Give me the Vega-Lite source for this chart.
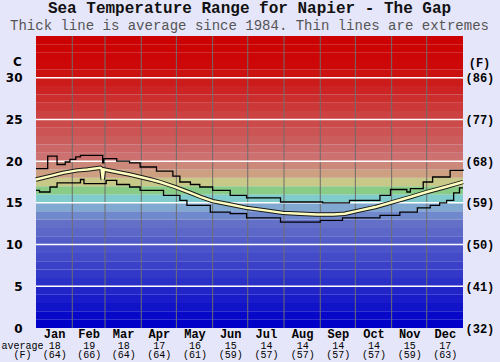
{
  "$schema": "https://vega.github.io/schema/vega-lite/v6.json",
  "width": 427,
  "height": 292,
  "autosize": {"type": "none"},
  "padding": {"left": 36, "top": 36, "right": 37, "bottom": 34},
  "background": "#e6e6fa",
  "title": {
    "text": "Sea Temperature Range for Napier - The Gap",
    "subtitle": "Thick line is average since 1984. Thin lines are extremes",
    "font": "Liberation Mono", "fontSize": 16, "fontWeight": "bold", "color": "#111111",
    "subtitleFont": "Liberation Mono", "subtitleFontSize": 14, "subtitleColor": "#555555",
    "subtitlePadding": 3, "offset": 3, "anchor": "middle"
  },
  "datasets": {
    "bands": [
      {"t":0,"t2":1},{"t":1,"t2":2},{"t":2,"t2":3},{"t":3,"t2":4},{"t":4,"t2":5},{"t":5,"t2":6},{"t":6,"t2":7},
      {"t":7,"t2":8},{"t":8,"t2":9},{"t":9,"t2":10},{"t":10,"t2":11},{"t":11,"t2":12},{"t":12,"t2":13},{"t":13,"t2":14},
      {"t":14,"t2":15},{"t":15,"t2":16},{"t":16,"t2":17},{"t":17,"t2":18},{"t":18,"t2":19},{"t":19,"t2":20},{"t":20,"t2":21},
      {"t":21,"t2":22},{"t":22,"t2":23},{"t":23,"t2":24},{"t":24,"t2":25},{"t":25,"t2":26},{"t":26,"t2":27},{"t":27,"t2":28},
      {"t":28,"t2":29},{"t":29,"t2":30},{"t":30,"t2":31},{"t":31,"t2":32},{"t":32,"t2":33},{"t":33,"t2":34},{"t":34,"t2":35}
    ],
    "months": [{"day":31},{"day":59},{"day":90},{"day":120},{"day":151},{"day":181},{"day":212},{"day":243},{"day":273},{"day":304},{"day":334}],
    "grid": [{"t":5},{"t":10},{"t":15},{"t":20},{"t":25},{"t":30}],
    "max": [
      {"day":0,"temp":19.1},{"day":10,"temp":20.6},{"day":18,"temp":19.6},{"day":25,"temp":19.9},{"day":29,"temp":20.2},
      {"day":34,"temp":20.5},{"day":38,"temp":20.7},{"day":57,"temp":19.8},{"day":58,"temp":20.3},{"day":69,"temp":20.0},
      {"day":80,"temp":19.8},{"day":89,"temp":19.3},{"day":103,"temp":18.8},{"day":117,"temp":18.2},{"day":123,"temp":17.5},
      {"day":132,"temp":17.2},{"day":140,"temp":16.9},{"day":151,"temp":16.5},{"day":166,"temp":15.9},{"day":180,"temp":15.6},
      {"day":209,"temp":15.1},{"day":245,"temp":15.0},{"day":268,"temp":15.3},{"day":294,"temp":15.9},{"day":303,"temp":16.6},
      {"day":317,"temp":16.3},{"day":320,"temp":16.7},{"day":331,"temp":17.5},{"day":339,"temp":18.1},{"day":354,"temp":18.9},
      {"day":365,"temp":19.0}
    ],
    "min": [
      {"day":0,"temp":16.5},{"day":3,"temp":16.3},{"day":12,"temp":16.9},{"day":18,"temp":17.4},{"day":38,"temp":17.8},
      {"day":41,"temp":17.3},{"day":60,"temp":17.7},{"day":69,"temp":17.2},{"day":80,"temp":16.9},{"day":89,"temp":16.5},
      {"day":109,"temp":15.9},{"day":123,"temp":15.3},{"day":129,"temp":14.7},{"day":149,"temp":13.9},{"day":166,"temp":13.7},
      {"day":180,"temp":13.2},{"day":209,"temp":12.7},{"day":243,"temp":12.9},{"day":262,"temp":13.2},{"day":294,"temp":13.5},
      {"day":311,"temp":13.9},{"day":326,"temp":14.4},{"day":337,"temp":14.7},{"day":345,"temp":15.0},{"day":351,"temp":15.3},
      {"day":357,"temp":16.2},{"day":362,"temp":16.8},{"day":365,"temp":16.8}
    ],
    "avg": [
      {"day":0,"temp":17.8},{"day":12,"temp":18.2},{"day":23,"temp":18.6},{"day":35,"temp":18.9},{"day":44,"temp":19.0},
      {"day":55,"temp":19.2},{"day":56,"temp":19.1},{"day":57,"temp":17.8},{"day":58,"temp":19.0},{"day":69,"temp":18.7},
      {"day":80,"temp":18.4},{"day":89,"temp":18.1},{"day":98,"temp":17.8},{"day":106,"temp":17.5},{"day":119,"temp":16.9},
      {"day":132,"temp":16.2},{"day":141,"temp":15.7},{"day":151,"temp":15.2},{"day":166,"temp":14.8},{"day":180,"temp":14.4},
      {"day":196,"temp":14.1},{"day":211,"temp":13.8},{"day":226,"temp":13.7},{"day":240,"temp":13.6},{"day":254,"temp":13.6},
      {"day":264,"temp":13.7},{"day":274,"temp":14.0},{"day":290,"temp":14.5},{"day":305,"temp":15.1},{"day":320,"temp":15.7},
      {"day":334,"temp":16.3},{"day":350,"temp":16.9},{"day":365,"temp":17.5}
    ]
  },
  "layer": [
    {
      "data": {"name": "bands"},
      "mark": {"type": "rect", "strokeWidth": 0},
      "encoding": {
        "y": {"field": "t", "type": "quantitative", "scale": {"domain": [0, 35], "nice": false, "zero": false},
          "axis": {"orient": "left", "values": [0,5,10,15,20,25,30], "title": "C", "titleAngle": 0, "titleX": -19, "titleY": 25,
            "titleAlign": "center", "titleBaseline": "middle", "titleFont": "DejaVu Sans", "titleFontSize": 12, "titleFontWeight": "bold",
            "titleColor": "#000000", "labelFont": "DejaVu Sans", "labelFontSize": 12, "labelFontWeight": "bold", "labelColor": "#000000",
            "labelPadding": 14}},
        "y2": {"field": "t2"},
        "color": {"field": "t", "type": "quantitative", "legend": null,
          "scale": {"type": "linear", "domain": [0,12,13,14,15,16,17,18,19,20,31,35],
            "range": ["#0000c8","#6470c8","#7088cc","#80a8d0","#80cccc","#88cc88","#c8c888","#cca080","#cc8878","#cc7070","#cc0808","#cc0000"],
            "interpolate": "rgb"}}
      }
    },
    {
      "data": {"name": "months"},
      "mark": {"type": "rule", "color": "#6e6e6e", "strokeWidth": 1},
      "encoding": {
        "x": {"field": "day", "type": "quantitative", "scale": {"domain": [0, 365], "nice": false, "zero": false},
          "axis": {"orient": "bottom", "values": [15.5,45,74.5,105,135.5,166,196.5,227.5,258,288.5,319,349.5],
            "labelExpr": "['Jan','Feb','Mar','Apr','May','Jun','Jul','Aug','Sep','Oct','Nov','Dec'][floor(datum.value/30.42)]",
            "labelFont": "Liberation Mono", "labelFontSize": 12, "labelFontWeight": "bold", "labelColor": "#000000",
            "labelPadding": 0, "labelBaseline": "top", "labelOverlap": false, "labelFlush": false, "title": null}}
      }
    },
    {
      "data": {"name": "grid"},
      "mark": {"type": "rule", "color": "#ffffff", "strokeWidth": 1.5},
      "encoding": {
        "y": {"field": "t", "type": "quantitative", "scale": {"domain": [0, 35], "nice": false, "zero": false},
          "axis": {"orient": "right", "values": [0,5,10,15,20,25,30],
            "labelExpr": "'(' + round(datum.value*9/5+32) + ')'",
            "labelFont": "Liberation Mono", "labelFontSize": 12, "labelFontWeight": "bold", "labelColor": "#000000", "labelPadding": 2,
            "title": "(F)", "titleAngle": 0, "titleX": 16, "titleY": 26, "titleAlign": "center", "titleBaseline": "middle",
            "titleFont": "Liberation Mono", "titleFontSize": 12, "titleFontWeight": "bold", "titleColor": "#000000"}}
      }
    },
    {
      "data": {"name": "max"},
      "mark": {"type": "line", "interpolate": "step-after", "color": "#000000", "strokeWidth": 1.3},
      "encoding": {
        "x": {"field": "day", "type": "quantitative", "scale": {"domain": [0, 365], "nice": false, "zero": false}, "axis": null},
        "y": {"field": "temp", "type": "quantitative", "scale": {"domain": [0, 35], "nice": false, "zero": false}, "axis": null}
      }
    },
    {
      "data": {"name": "min"},
      "mark": {"type": "line", "interpolate": "step-after", "color": "#000000", "strokeWidth": 1.3},
      "encoding": {
        "x": {"field": "day", "type": "quantitative", "scale": {"domain": [0, 365], "nice": false, "zero": false}, "axis": null},
        "y": {"field": "temp", "type": "quantitative", "scale": {"domain": [0, 35], "nice": false, "zero": false}, "axis": null}
      }
    },
    {
      "data": {"name": "avg"},
      "mark": {"type": "line", "color": "#1a1a1a", "strokeWidth": 4.4},
      "encoding": {
        "x": {"field": "day", "type": "quantitative", "scale": {"domain": [0, 365], "nice": false, "zero": false},
          "axis": {"orient": "bottom", "values": [15.5,45,74.5,105,135.5,166,196.5,227.5,258,288.5,319,349.5],
            "labelExpr": "[['18','(64)'],['19','(66)'],['18','(64)'],['17','(64)'],['16','(61)'],['15','(59)'],['14','(57)'],['14','(57)'],['14','(57)'],['14','(57)'],['15','(59)'],['17','(63)']][floor(datum.value/30.42)]",
            "labelFont": "Liberation Mono", "labelFontSize": 10, "labelColor": "#000000", "labelPadding": 12, "labelBaseline": "top",
            "labelLineHeight": 9.5, "labelOverlap": false, "labelFlush": false,
            "title": ["average", "(F)"], "titleX": -14, "titleY": 12, "titleAlign": "center", "titleBaseline": "top",
            "titleFont": "Liberation Mono", "titleFontSize": 10, "titleFontWeight": "normal", "titleLineHeight": 9.5, "titleColor": "#000000"}},
        "y": {"field": "temp", "type": "quantitative", "scale": {"domain": [0, 35], "nice": false, "zero": false}, "axis": null}
      }
    },
    {
      "data": {"name": "avg"},
      "mark": {"type": "line", "color": "#ffffc0", "strokeWidth": 2.4},
      "encoding": {
        "x": {"field": "day", "type": "quantitative", "scale": {"domain": [0, 365], "nice": false, "zero": false}, "axis": null},
        "y": {"field": "temp", "type": "quantitative", "scale": {"domain": [0, 35], "nice": false, "zero": false}, "axis": null}
      }
    }
  ],
  "resolve": {"axis": {"x": "independent", "y": "independent"}},
  "config": {
    "view": {"stroke": null},
    "axis": {"domain": false, "ticks": false, "tickSize": 0, "grid": false}
  }
}
